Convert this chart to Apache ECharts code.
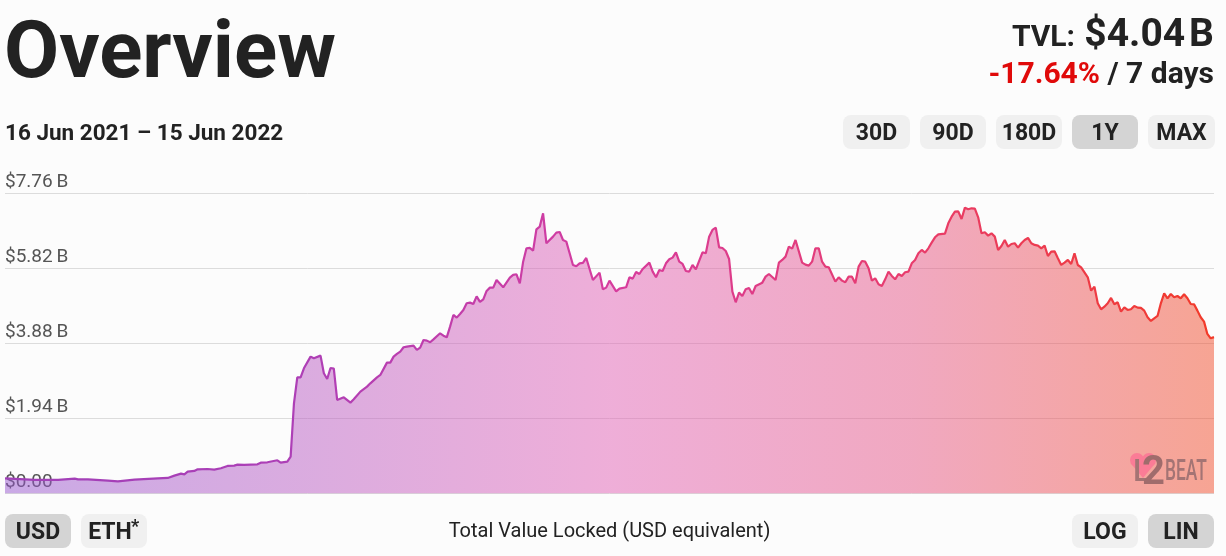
<!DOCTYPE html>
<html><head><meta charset="utf-8">
<style>html,body{margin:0;padding:0;background:#fcfcfc}#c{width:1226px;height:556px}</style>
<script src="https://cdn.jsdelivr.net/npm/echarts@6/dist/echarts.min.js"></script>
</head><body><div id="c"></div>
<script>
const yTickValues = [0, 1.94, 3.88, 5.82, 7.76];
const dateRange = '16 Jun 2021 – 15 Jun 2022';
const rangeButtons = ['30D', '90D', '180D', '1Y', 'MAX'];
const unitButtons = ['USD', 'ETH'];
const scaleButtons = ['LOG', 'LIN'];
// days since 16 Jun 2021
const days = [0,9,16,21,22,25,31,34,39,46,49,51,53,54,55,57,58,61,63,65,67,69,70,72,76,77,79,82,83,85,86,87,88,89,90,92,93,95,96,97,98,99,100,102,104,105,107,109,110,112,113,115,116,117,118,
119,120,121,123,124,125,126,127,128,129,131,132,133,134,135,136,137,138,139,140,141,142,143,144,145,146,147,148,150,152,153,154,155,156,157,158,159,160,161,162,163,165,166,167,168,169,170,171,172,173,174,175,177,179,180,181,182,184,185,187,188,189,190,191,192,194,195,196,197,198,199,200,201,202,203,204,205,206,207,208,210,211,212,213,214,215,216,217,218,219,220,221,222,223,224,225,226,228,229,230,232,233,234,235,236,237,238,240,241,
242,243,244,245,246,247,248,250,251,252,253,254,255,256,257,258,259,260,261,262,263,264,265,266,267,268,269,270,271,272,273,274,275,276,277,278,279,280,281,283,284,285,286,287,288,289,290,291,292,293,294,295,296,297,298,299,300,301,302,303,304,305,306,307,308,309,310,311,312,313,314,315,316,317,318,319,320,321,322,323,324,325,326,327,328,329,330,331,332,333,334,335,336,337,338,339,340,341,342,343,344,345,346,347,348,349,350,351,352,353,354,355,356,357,358,359,360,361,362,363,364];
// total value locked, billions of USD
const tvl = [.388,.345,.345,.379,.362,.362,.328,.310,.354,.388,.397,.457,.509,.491,.560,.578,.621,.629,.612,.647,.707,.716,.741,.733,.750,.793,.802,.854,.793,.819,.948,2.328,3.0,3.0,3.233,3.535,3.492,3.561,3.104,2.957,3.242,3.225,2.414,2.483,2.345,2.431,2.630,2.759,2.845,3.0,3.061,3.380,3.380,3.535,3.604,
3.664,3.777,3.794,3.82,3.708,3.768,3.966,3.949,3.906,3.983,4.139,4.078,4.035,4.311,4.613,4.544,4.639,4.742,4.915,4.932,4.897,5.095,4.95,5.018,5.234,5.32,5.32,5.518,5.329,5.579,5.648,5.665,5.432,5.992,6.337,6.346,6.277,6.829,6.898,7.243,6.467,6.639,6.743,6.76,6.553,6.51,6.208,5.906,5.872,5.949,5.958,6.087,5.518,5.708,5.277,5.32,5.501,5.225,5.294,5.329,5.587,5.553,5.725,5.673,5.803,5.967,5.734,5.587,5.777,5.751,5.949,6.053,6.096,6.234,5.992,5.932,5.751,5.734,5.906,5.794,6.234,6.208,6.639,6.812,6.872,6.363,6.346,6.268,6.061,5.216,4.941,5.191,5.104,5.277,5.311,5.156,5.363,5.449,5.604,5.673,5.518,5.967,6.036,6.122,6.38,6.329,6.553,5.967,5.915,
5.889,5.992,6.337,6.337,5.992,5.863,5.846,5.475,5.587,5.501,5.458,5.604,5.604,5.432,5.863,6.01,5.992,5.82,5.501,5.561,5.406,5.363,5.535,5.734,5.622,5.535,5.673,5.622,5.717,5.734,5.949,6.036,6.208,6.294,6.225,6.337,6.484,6.622,6.699,6.717,6.984,7.156,7.286,7.294,7.096,7.389,7.346,7.372,7.363,7.139,6.725,6.751,6.665,6.725,6.639,6.294,6.398,6.553,6.38,6.449,6.467,6.355,6.467,6.553,6.605,6.467,6.424,6.406,6.337,6.406,6.139,6.251,6.26,6.079,5.906,5.967,6.036,5.932,6.208,5.906,5.846,5.717,5.587,5.242,5.346,4.915,4.76,4.828,4.915,5.053,4.889,4.941,4.699,4.811,4.742,4.76,4.846,4.803,4.794,4.725,4.553,4.458,4.527,4.587,4.915,5.173,5.044,5.156,5.07,5.104,5.044,5.147,5.044,4.897,4.889,4.725,4.553,4.44,4.122,4.009,4.04];

const FONT = 'Roboto, sans-serif';
const INK = '#222222';
const chart = echarts.init(document.getElementById('c'), null, {renderer:'canvas'});
const lg = (stops) => new echarts.graphic.LinearGradient(0,0,1,0,stops);
// y is the text baseline
function txt(text,x,y,size,opts){
  opts=opts||{};
  return {type:'text',x,y:y-.75*size,silent:true,z:opts.z||10,scaleX:opts.scaleX||1,
    style:Object.assign({text,font:`${opts.weight||'bold'} ${size}px ${FONT}`,fill:INK,align:'left',verticalAlign:'top'},opts.style||{})};
}
function btn(label,x0,x1,y0,y1,active,cx){
  return [
    {type:'rect',shape:{x:x0,y:y0,width:x1-x0,height:y1-y0,r:8},style:{fill:active?'#d4d4d4':'#f0f0f0'},silent:true},
    txt(label,cx||(x0+x1)/2,y0+25,23,{style:{align:'center'}})
  ];
}
const rangeX=[[843,910],[920,986],[996,1062],[1072,1138],[1148,1215]];
const graphics=[
  txt('Overview',4,77,80),
  txt('TVL:',1075,46,30,{style:{align:'right'}}),
  txt('$4.04\u200AB',1214,46,39,{style:{align:'right'}}),
  txt('/ 7 days',1214,83,30,{style:{align:'right'}}),
  txt('-17.64%',1100,83,30,{style:{align:'right',fill:'#e00a0a'}}),
  txt(dateRange,5,140,22.5),
  txt('Total Value Locked (USD equivalent)',609.5,537,20,{weight:'normal',style:{align:'center'}}),
];
rangeButtons.forEach((b,i)=>graphics.push(...btn(b,rangeX[i][0],rangeX[i][1],115,149,b==='1Y')));
unitButtons.forEach((b,i)=>graphics.push(...btn(b,i?81:5,i?147:71,514,548,b==='USD',i?110:0)));
graphics.push(txt('*',131,532,18));
scaleButtons.forEach((b,i)=>graphics.push(...btn(b,i?1148:1072,i?1214:1138,514,548,b==='LIN')));
// watermark
graphics.push(
  {type:'circle',silent:true,z:20,shape:{cx:1137,cy:460,r:7},style:{fill:'#fb7c96'}},
  {type:'circle',silent:true,z:20,shape:{cx:1149,cy:460,r:7},style:{fill:'#fb7c96'}},
  {type:'polygon',silent:true,z:20,shape:{points:[[1130.5,463],[1155.5,463],[1143,478]]},style:{fill:'#fb7c96'}},
  txt('L',1133,481,31,{weight:'500',z:21,style:{fill:'#a47474'}}),
  txt('2',1142,484,40,{weight:'bold',z:21,style:{fill:'#a06c6c'}}),
  txt('BEAT',1165,480,30,{weight:'500',z:21,scaleX:.58,style:{fill:'#a47474'}})
);

chart.setOption({
  animation:false,
  backgroundColor:'#fcfcfc',
  grid:{left:5,right:12,top:193.3,bottom:62.7,containLabel:false},
  xAxis:{type:'value',min:0,max:364,show:false},
  yAxis:{type:'value',min:0,max:7.76,interval:1.94,
    axisLine:{show:false},axisTick:{show:false},
    splitLine:{show:true,lineStyle:{color:'#dcdcdc',width:1}},
    axisLabel:{inside:true,margin:0,align:'left',verticalAlign:'bottom',lineHeight:22,
      color:'#555555',fontFamily:'Roboto',fontSize:19,
      formatter:v=>'$'+v.toFixed(2)+(v>0?'\u2009B':'')}
  },
  series:[{
    type:'line',showSymbol:false,smooth:false,z:3,
    data:days.map((d,i)=>[d,tvl[i]]),
    lineStyle:{width:2.2,color:lg([{offset:0,color:'#a040b8'},{offset:.25,color:'#ae3fb6'},{offset:.5,color:'#d63c9e'},{offset:.75,color:'#e83c6c'},{offset:1,color:'#f23a28'}])},
    areaStyle:{opacity:1,color:lg([
      {offset:0,color:'rgba(151,87,207,.5)'},
      {offset:.25,color:'rgba(185,92,195,.5)'},
      {offset:.5,color:'rgba(225,97,181,.5)'},
      {offset:.75,color:'rgba(229,85,133,.5)'},
      {offset:1,color:'rgba(241,77,43,.5)'}])}
  }],
  graphic:{elements:graphics}
});
</script></body></html>
